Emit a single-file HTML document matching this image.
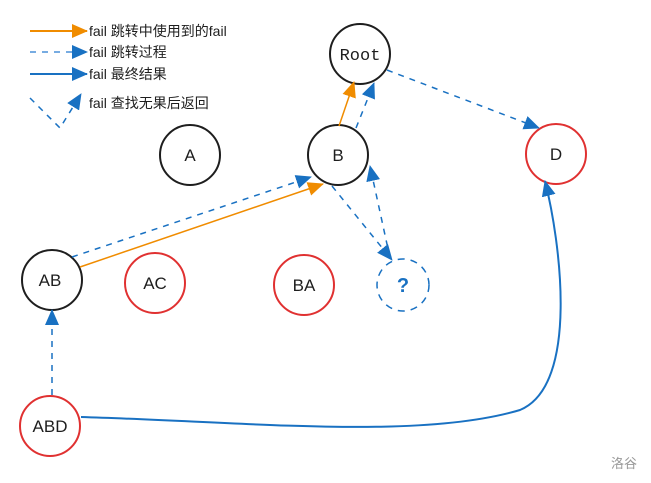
<!DOCTYPE html><html><head><meta charset="utf-8"><style>body{margin:0;background:#fff}svg{display:block}text{font-family:"Liberation Sans","Noto Sans CJK SC",sans-serif}</style></head><body>
<svg width="651" height="483" viewBox="0 0 651 483" xmlns="http://www.w3.org/2000/svg">
<defs>
<marker id="o" markerWidth="16" markerHeight="14" refX="15" refY="7" orient="auto" markerUnits="userSpaceOnUse" viewBox="0 0 16 14"><path d="M0,0L16,7L0,14z" fill="#f08c00"/></marker>
<marker id="b" markerWidth="16" markerHeight="14" refX="15" refY="7" orient="auto" markerUnits="userSpaceOnUse" viewBox="0 0 16 14"><path d="M0,0L16,7L0,14z" fill="#1971c2"/></marker>
</defs>
<g font-size="14" fill="#1e1e1e">
<line x1="30" y1="31" x2="87" y2="31" stroke="#f08c00" stroke-width="2" marker-end="url(#o)" />
<text x="89" y="36">fail 跳转中使用到的fail</text>
<line x1="30" y1="52" x2="87" y2="52" stroke="#4a90d9" stroke-width="1.5" stroke-dasharray="6,6" marker-end="url(#b)"/>
<text x="89" y="57">fail 跳转过程</text>
<line x1="30" y1="74" x2="87" y2="74" stroke="#1971c2" stroke-width="2" marker-end="url(#b)"/>
<text x="89" y="79">fail 最终结果</text>
<polyline points="30,98 60,128 81,94" fill="none" stroke="#1971c2" stroke-width="1.5" stroke-dasharray="6,6" marker-end="url(#b)"/>
<text x="89" y="108">fail 查找无果后返回</text>
</g>
<g fill="none" stroke-width="2">
<circle cx="360" cy="54" r="30" stroke="#1e1e1e"/>
<circle cx="190" cy="155" r="30" stroke="#1e1e1e"/>
<circle cx="338" cy="155" r="30" stroke="#1e1e1e"/>
<circle cx="556" cy="154" r="30" stroke="#e03131"/>
<circle cx="52" cy="280" r="30" stroke="#1e1e1e"/>
<circle cx="155" cy="283" r="30" stroke="#e03131"/>
<circle cx="304" cy="285" r="30" stroke="#e03131"/>
<circle cx="403" cy="285" r="26" stroke="#1971c2" stroke-width="1.5" stroke-dasharray="7,6"/>
<circle cx="50" cy="426" r="30" stroke="#e03131"/>
</g>
<g font-size="17" fill="#1e1e1e" text-anchor="middle">
<text x="360" y="60" style="font-family:'Liberation Mono'">Root</text>
<text x="190" y="161">A</text>
<text x="338" y="161">B</text>
<text x="556" y="160">D</text>
<text x="50" y="286">AB</text>
<text x="155" y="289">AC</text>
<text x="304" y="291">BA</text>
<text x="403" y="292" fill="#1971c2" font-weight="bold" font-size="20">?</text>
<text x="50" y="432">ABD</text>
</g>
<g fill="none" stroke-width="1.5">
<line x1="339" y1="126" x2="354" y2="82" stroke="#f08c00" marker-end="url(#o)"/>
<line x1="356" y1="128" x2="374" y2="83" stroke="#1971c2" stroke-dasharray="6,6" marker-end="url(#b)"/>
<line x1="387" y1="70" x2="539" y2="128" stroke="#1971c2" stroke-dasharray="6,6" marker-end="url(#b)"/>
<line x1="72" y1="257" x2="311" y2="177" stroke="#1971c2" stroke-dasharray="6,6" marker-end="url(#b)"/>
<line x1="80" y1="267" x2="323" y2="184" stroke="#f08c00" marker-end="url(#o)"/>
<line x1="332" y1="186" x2="392" y2="260" stroke="#1971c2" stroke-dasharray="6,6" marker-end="url(#b)"/>
<line x1="390" y1="258" x2="370" y2="166" stroke="#1971c2" stroke-dasharray="6,6" marker-end="url(#b)"/>
<line x1="52" y1="395" x2="52" y2="310" stroke="#1971c2" stroke-dasharray="6,6" marker-end="url(#b)"/>
<path d="M81,417 C250,422 420,440 520,410 C580,385 560,240 545,181" stroke="#1971c2" stroke-width="2" marker-end="url(#b)"/>
</g>
<text x="611" y="468" font-size="13" fill="#999">洛谷</text>
</svg>
</body></html>
